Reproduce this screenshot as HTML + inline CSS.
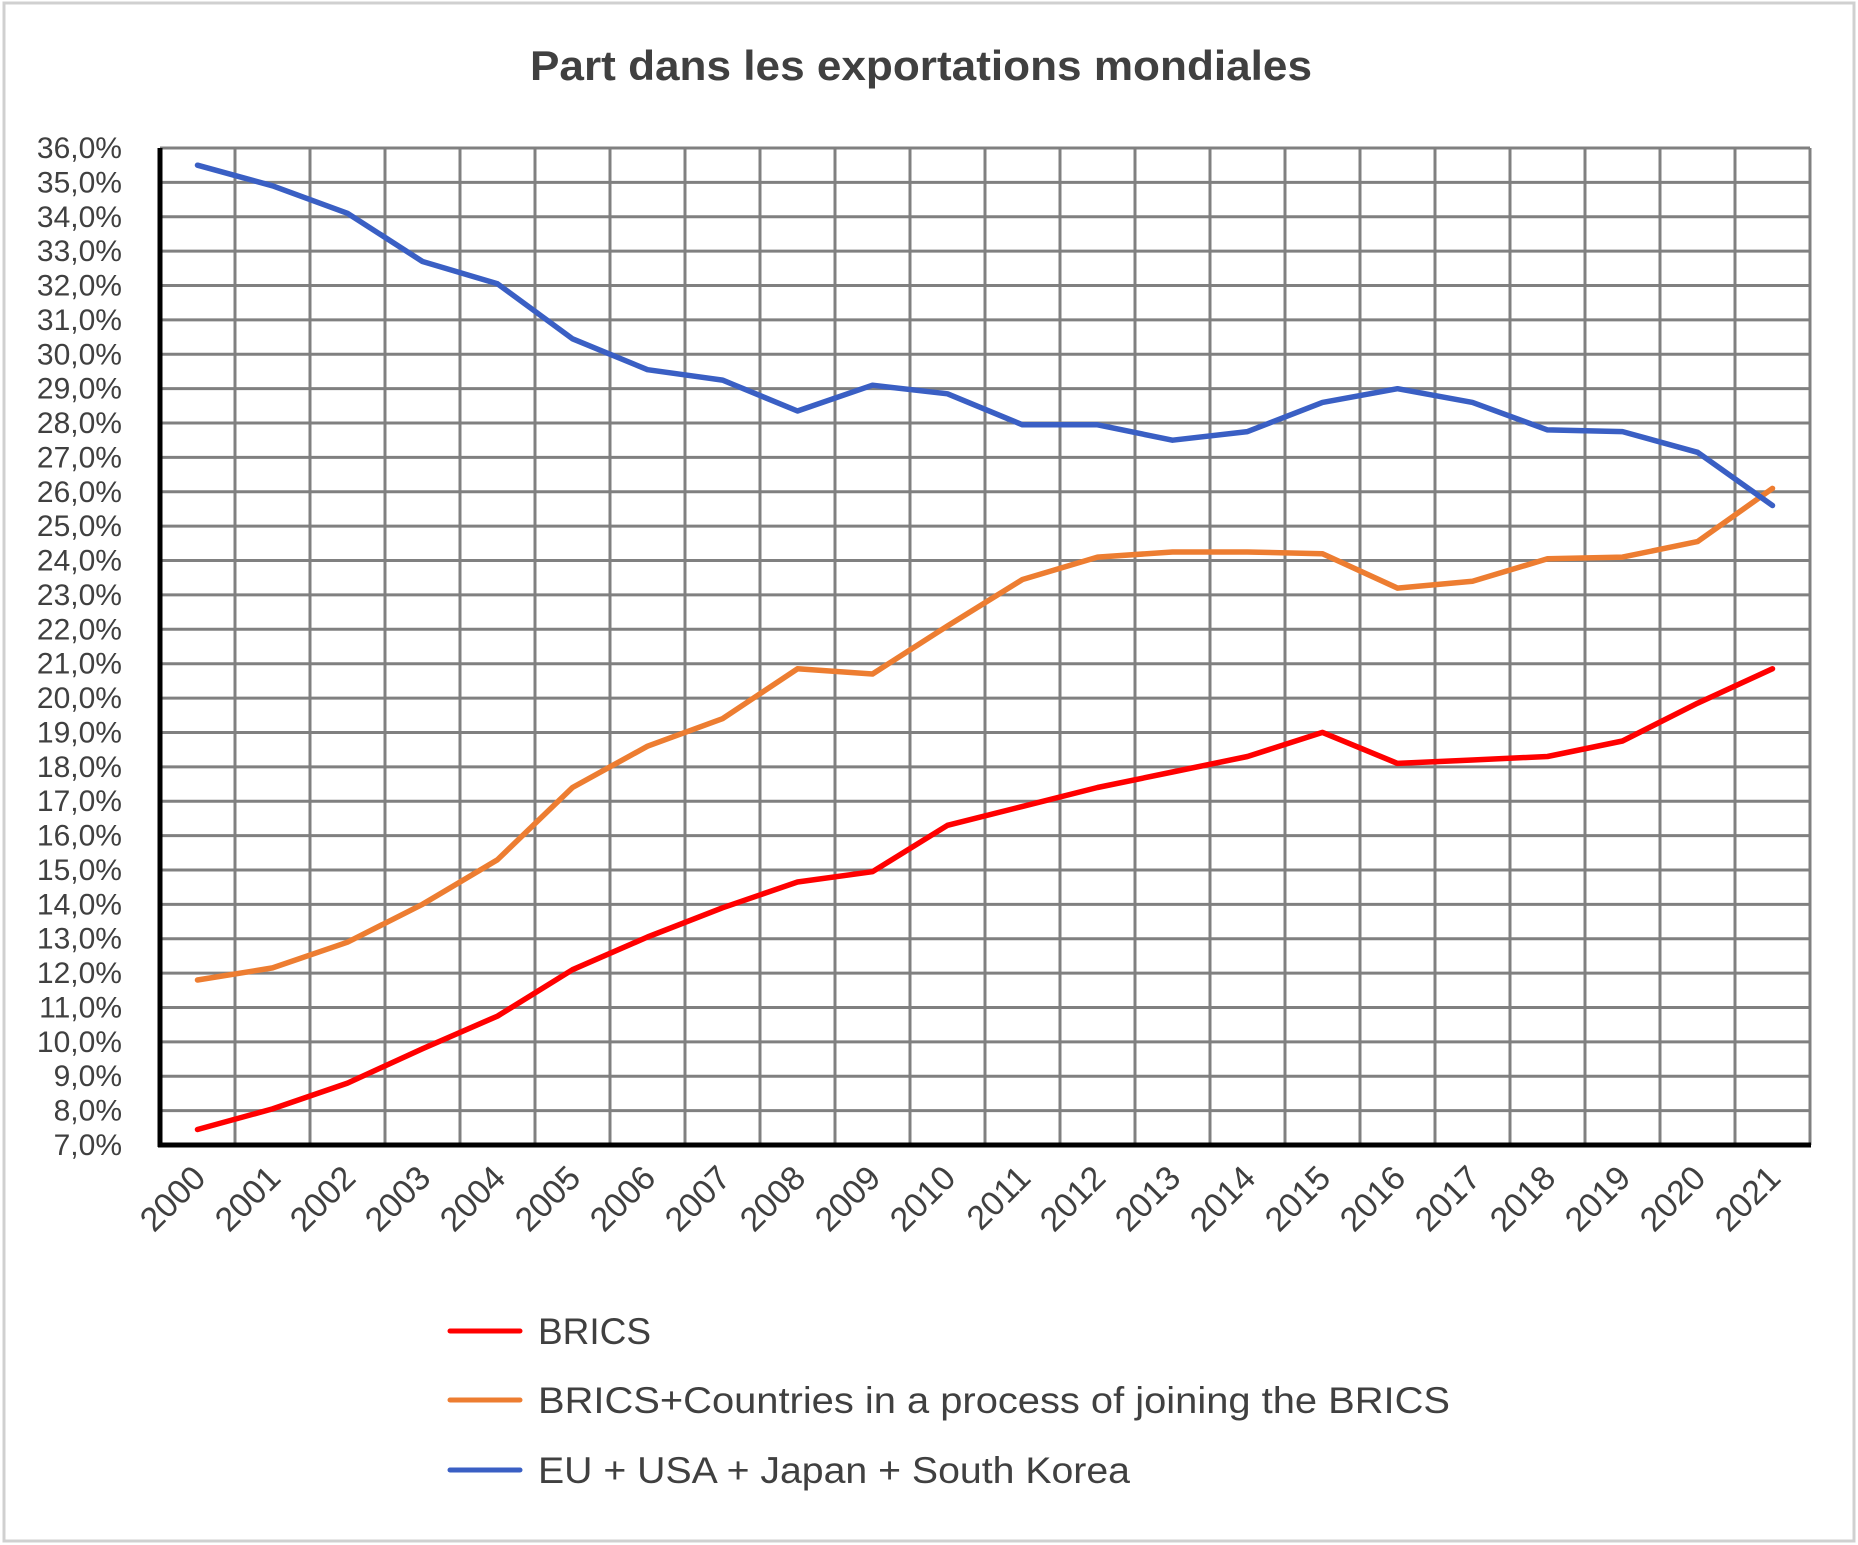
<!DOCTYPE html>
<html><head><meta charset="utf-8"><style>
html,body{margin:0;padding:0;background:#fff;}
svg{display:block;font-family:"Liberation Sans",sans-serif;}
</style></head><body>
<svg id="chart" width="1858" height="1545" viewBox="0 0 1858 1545">
<rect x="4" y="3" width="1850" height="1538" fill="#fff" stroke="#d0d0d0" stroke-width="3"/>
<text x="921" y="80" text-anchor="middle" font-size="42" font-weight="bold" fill="#404040" textLength="782" lengthAdjust="spacingAndGlyphs">Part dans les exportations mondiales</text>
<g id="grid"></g>
<g id="yticks"></g>
<g id="xticks"></g>
<g id="series"></g>
<g>
<g><line x1="450" y1="1331" x2="520" y2="1331" stroke="#ff0000" stroke-width="5" stroke-linecap="round"/><text x="538" y="1344" font-size="37" fill="#404040">BRICS</text></g>
<g><line x1="450" y1="1400" x2="520" y2="1400" stroke="#ed7d31" stroke-width="5" stroke-linecap="round"/><text x="538" y="1413" font-size="37" fill="#404040" textLength="912" lengthAdjust="spacingAndGlyphs">BRICS+Countries in a process of joining the BRICS</text></g>
<g><line x1="450" y1="1470" x2="520" y2="1470" stroke="#3a5fc4" stroke-width="5" stroke-linecap="round"/><text x="538" y="1483" font-size="37" fill="#404040" textLength="592" lengthAdjust="spacingAndGlyphs">EU + USA + Japan + South Korea</text></g>
</g>
</svg>
<script>
const years = ["2000","2001","2002","2003","2004","2005","2006","2007","2008","2009","2010","2011","2012","2013","2014","2015","2016","2017","2018","2019","2020","2021"];
const brics = [7.45,8.05,8.8,9.8,10.75,12.1,13.05,13.9,14.65,14.95,16.3,16.85,17.4,17.85,18.3,19.0,18.1,18.2,18.3,18.75,19.85,20.85];
const bricsPlus = [11.8,12.15,12.9,14.0,15.3,17.4,18.6,19.4,20.85,20.7,22.1,23.45,24.1,24.25,24.25,24.2,23.2,23.4,24.05,24.1,24.55,26.1];
const euUsaJpKr = [35.5,34.9,34.1,32.7,32.05,30.45,29.55,29.25,28.35,29.1,28.85,27.95,27.95,27.5,27.75,28.6,29.0,28.6,27.8,27.75,27.15,25.6];
const yTicks = [7,8,9,10,11,12,13,14,15,16,17,18,19,20,21,22,23,24,25,26,27,28,29,30,31,32,33,34,35,36];

const NS = "http://www.w3.org/2000/svg";
const L = 160, R = 1810, T = 148, B = 1145, yMin = 7, yMax = 36;
const bw = (R - L) / years.length;
function xScale(i){ return L + bw * (i + 0.5); }
function yScale(v){ return B - (v - yMin) / (yMax - yMin) * (B - T); }
function mk(tag, attrs, parent){ const e = document.createElementNS(NS, tag); for (const k in attrs) e.setAttribute(k, attrs[k]); parent.appendChild(e); return e; }

const grid = document.getElementById('grid');
yTicks.forEach(v => {
  const ln = mk('line', {x1:L, x2:R, y1:yScale(v), y2:yScale(v), stroke:'#808080', 'stroke-width':3}, grid);
  
  
});
for (let i = 1; i <= years.length; i++) {
  const x = L + bw * i;
  const ln = mk('line', {x1:x, x2:x, y1:T, y2:B, stroke:'#808080', 'stroke-width':3}, grid);
  
  
}
const ya = mk('line', {x1:L, x2:L, y1:T, y2:B+2, stroke:'#000', 'stroke-width':5}, grid);


const xa = mk('line', {x1:L-2, x2:R+1, y1:B, y2:B, stroke:'#000', 'stroke-width':5}, grid);



const yt = document.getElementById('yticks');
yTicks.forEach(v => {
  const t = mk('text', {x:122, y:yScale(v)+10, 'text-anchor':'end', 'font-size':30, fill:'#404040'}, yt);
  t.textContent = v.toFixed(1).replace('.', ',') + '%';
  
  
});

const xt = document.getElementById('xticks');
years.forEach((y, i) => {
  const x = xScale(i) + 10, yy = 1180;
  const t = mk('text', {x:x, y:yy, 'text-anchor':'end', 'font-size':34, fill:'#404040', transform:'rotate(-45 '+x+' '+yy+')'}, xt);
  t.textContent = y;
  
  
});

const sg = document.getElementById('series');
[[brics,'#ff0000','line-brics'],[bricsPlus,'#ed7d31','line-brics-plus'],[euUsaJpKr,'#3a5fc4','line-eu-usa-japan-korea']].forEach(([d,c,n]) => {
  const pts = d.map((v,i) => xScale(i).toFixed(1) + ',' + yScale(v).toFixed(1)).join(' ');
  const p = mk('polyline', {points:pts, fill:'none', stroke:c, 'stroke-width':5.5, 'stroke-linejoin':'round', 'stroke-linecap':'round'}, sg);
  
  
});
</script>
</body></html>
